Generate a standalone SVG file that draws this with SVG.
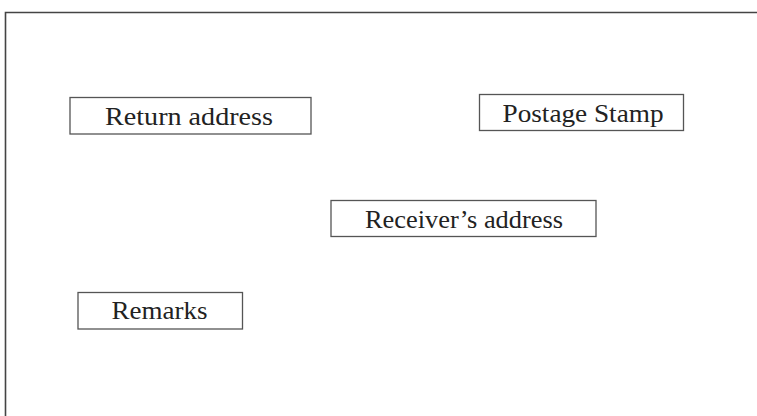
<svg xmlns="http://www.w3.org/2000/svg" width="757" height="416" viewBox="0 0 757 416">
<style>
.box{fill:#fff;stroke:#555;stroke-width:1.3}
.lbl{font-family:"Liberation Serif","Times New Roman",serif;font-size:25px;fill:#222;text-anchor:middle}
</style>
<rect width="757" height="416" fill="#fff"/>
<path d="M5.5,416 V12.5 H757" fill="none" stroke="#444" stroke-width="1.6"/>
<g id="return-address">
<rect class="box" x="70" y="97.5" width="241" height="36.5"/>
<text class="lbl" x="189" y="124.5" textLength="168" lengthAdjust="spacingAndGlyphs">Return address</text>
</g>
<g id="postage-stamp">
<rect class="box" x="479.5" y="94.5" width="204" height="36"/>
<text class="lbl" x="583" y="121.5" textLength="161" lengthAdjust="spacingAndGlyphs">Postage Stamp</text>
</g>
<g id="receivers-address">
<rect class="box" x="331" y="200.5" width="265" height="36"/>
<text class="lbl" x="464" y="227.5" textLength="198" lengthAdjust="spacingAndGlyphs">Receiver’s address</text>
</g>
<g id="remarks">
<rect class="box" x="78" y="292.5" width="164.5" height="36.5"/>
<text class="lbl" x="159.5" y="319" textLength="96" lengthAdjust="spacingAndGlyphs">Remarks</text>
</g>
<g id="connectors"/>
</svg>
